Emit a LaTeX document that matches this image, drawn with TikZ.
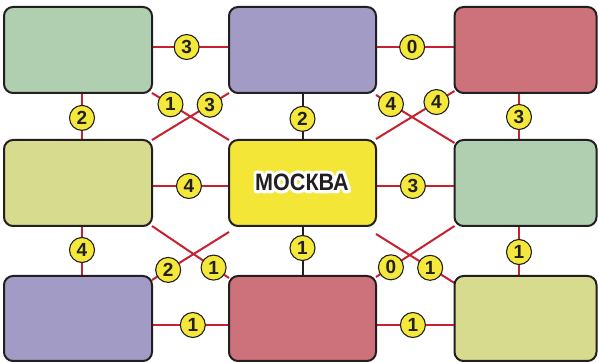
\documentclass[tikz,border=0pt]{standalone}
\usepackage{fontspec}
\setmainfont{Liberation Sans}
\usetikzlibrary{backgrounds,calc}
\definecolor{cgreen}{HTML}{B0CFB1}
\definecolor{cpurple}{HTML}{A19BC5}
\definecolor{cred}{HTML}{CD727B}
\definecolor{cyg}{HTML}{D7DB8D}
\definecolor{cyellow}{HTML}{F3E636}
\definecolor{byellow}{HTML}{F4E83A}
\definecolor{linered}{HTML}{C7202E}
\definecolor{ink}{HTML}{231F20}
\tikzset{
  box/.style={draw=ink, line width=2pt, rounded corners=9pt, inner sep=0pt, outer sep=0pt},
  redline/.style={draw=linered, line width=2pt},
  blackline/.style={draw=ink, line width=2pt},
  badge/.style={circle, draw=ink, line width=1.1pt, fill=byellow, minimum size=25pt, inner sep=0pt,
    font=\bfseries\fontsize{19}{19}\selectfont, text=ink},
  mtxt/.style={inner sep=0pt, font=\bfseries\fontsize{23.7}{24}\selectfont}
}
\newcommand{\mytext}{\scalebox{0.91}[1]{МОСКВА}}
\newcommand{\halotext}{\special{pdf:code 2 Tr 6.5 w 1 j 1 J 1 1 1 RG 1 1 1 rg}\scalebox{0.91}[1]{МОСКВА}\special{pdf:code 0 Tr 1 w 0 j 0 J}}
\begin{document}
\begin{tikzpicture}[x=1pt,y=-1pt]
\useasboundingbox (0,0) rectangle (598,363);
% boxes
\node[box, fill=cgreen,  minimum width=148pt, minimum height=86pt] (tl) at (78,50) {};
\node[box, fill=cpurple, minimum width=147pt, minimum height=86pt] (tm) at (302.5,50) {};
\node[box, fill=cred,    minimum width=142pt, minimum height=86pt] (tr) at (525.5,50) {};
\node[box, fill=cyg,     minimum width=148pt, minimum height=86pt] (ml) at (78,183) {};
\node[box, fill=cyellow, minimum width=147pt, minimum height=86pt] (c)  at (302.5,183) {};
\node[box, fill=cgreen,  minimum width=142pt, minimum height=86pt] (mr) at (525.5,183) {};
\node[box, fill=cpurple, minimum width=148pt, minimum height=85pt] (bl) at (78,318.5) {};
\node[box, fill=cred,    minimum width=147pt, minimum height=85pt] (bm) at (302.5,318.5) {};
\node[box, fill=cyg,     minimum width=142pt, minimum height=85pt] (br) at (525.5,318.5) {};
% label with white halo
\node[mtxt, text=white] (halo) at ($(c)+(-0.5,-1)$) {\halotext};
\node[mtxt, text=ink] (mtext) at ($(c)+(-0.5,-1)$) {\mytext};
\begin{pgfonlayer}{background}
% horizontal
\draw[redline] ($(tl.east)+(0,-3)$) -- ($(tm.west)+(0,-3)$) node[badge,pos=.45] (b1) {3};
\draw[redline] ($(tm.east)+(0,-3)$) -- ($(tr.west)+(0,-3)$) node[badge,pos=.46] (b2) {0};
\draw[redline] ($(ml.east)+(0,3)$) -- ($(c.west)+(0,3)$) node[badge,pos=.48] (b3) {4};
\draw[redline] ($(c.east)+(0,3)$) -- ($(mr.west)+(0,3)$) node[badge,pos=.47] (b4) {3};
\draw[redline] ($(bl.east)+(0,6.5)$) -- ($(bm.west)+(0,6.5)$) node[badge,pos=.53] (b5) {1};
\draw[redline] ($(bm.east)+(0,6.5)$) -- ($(br.west)+(0,6.5)$) node[badge,pos=.47] (b6) {1};
% vertical
\draw[redline] ($(tl.south)+(4,0)$) -- ($(ml.north)+(4,0)$) node[badge,pos=.53] (b7) {2};
\draw[blackline] (tm.south) -- (c.north) node[badge,pos=.55] (b8) {2};
\draw[redline] ($(tr.south)+(-6.5,0)$) -- ($(mr.north)+(-6.5,0)$) node[badge,pos=.51] (b9) {3};
\draw[redline] ($(ml.south)+(4,0)$) -- ($(bl.north)+(4,0)$) node[badge,pos=.48] (b10) {4};
\draw[blackline] (c.south) -- (bm.north) node[badge,pos=.44] (b11) {1};
\draw[redline] ($(mr.south)+(-6.5,0)$) -- ($(br.north)+(-6.5,0)$) node[badge,pos=.52] (b12) {1};
% diagonals
\draw[redline] (tl.south east) -- (c.north west) node[badge,pos=.24] (b13) {1};
\draw[redline] (tm.south west) -- (ml.north east) node[badge,pos=.25] (b14) {3};
\draw[redline] ($(tm.south east)+(0,2)$) -- ($(mr.north west)+(0,3)$) node[badge,pos=.19] (b15) {4};
\draw[redline] ($(tr.south west)+(0,-2)$) -- ($(c.north east)+(0,-1)$) node[badge,pos=.23] (b16) {4};
\draw[redline] (ml.south east) -- ($(bm.north west)+(0,2)$) node[badge,pos=.8] (b17) {1};
\draw[redline] ($(c.south west)+(0,6)$) -- ($(bl.north east)+(0,4)$) node[badge,pos=.79] (b18) {2};
\draw[redline] ($(c.south east)+(0,8)$) -- ($(br.north west)+(0,7)$) node[badge,pos=.69] (b19) {1};
\draw[redline] (mr.south west) -- ($(bm.north east)+(0,1)$) node[badge,pos=.81] (b20) {0};
\end{pgfonlayer}
\end{tikzpicture}
\end{document}
